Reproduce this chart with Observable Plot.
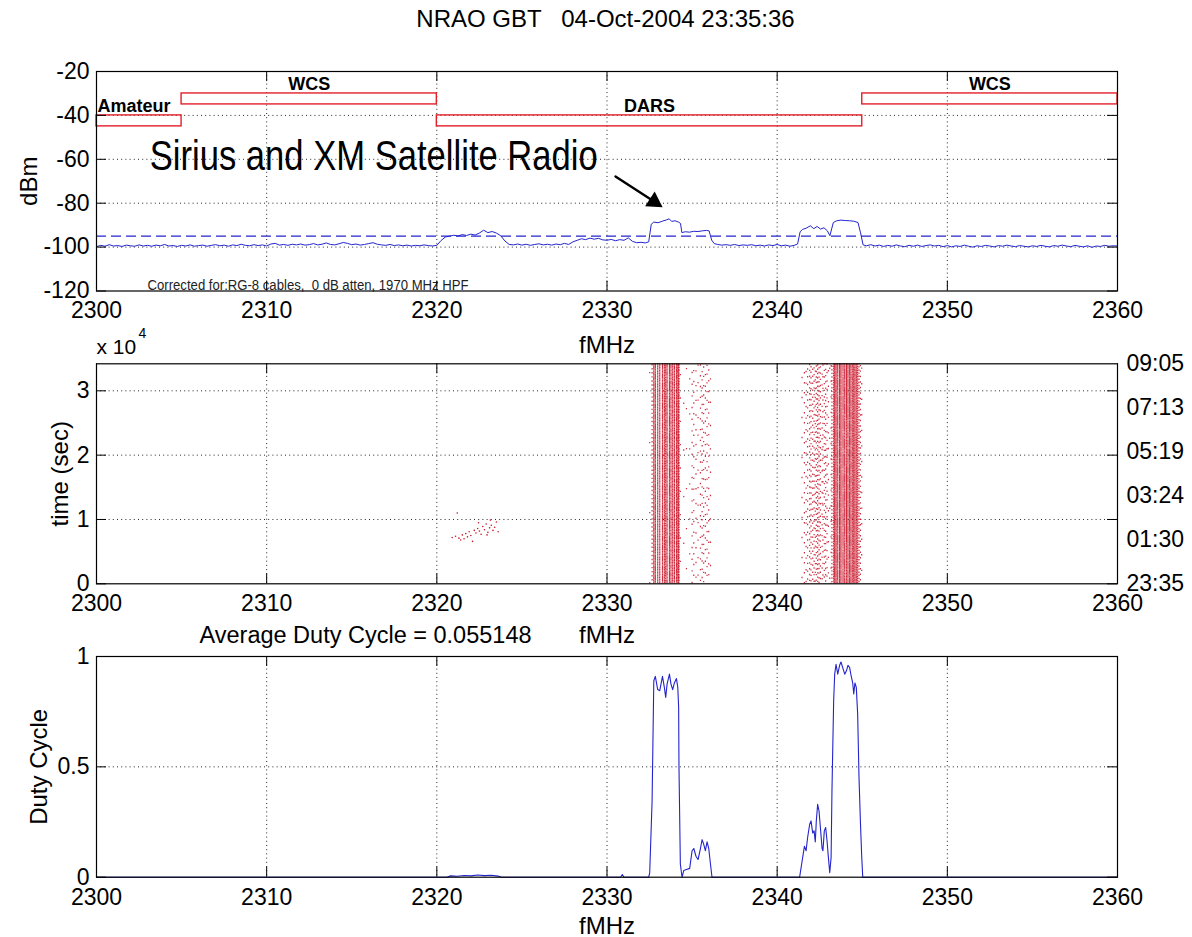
<!DOCTYPE html>
<html><head><meta charset="utf-8">
<script src="https://cdn.jsdelivr.net/npm/d3@7"></script>
<script src="https://cdn.jsdelivr.net/npm/@observablehq/plot@0.6"></script>
<style>
html,body{margin:0;padding:0;background:#fff;}
#chart{position:relative;width:1192px;height:937px;background:#fff;overflow:hidden;}
#chart svg{position:absolute;left:0;overflow:visible;background:transparent;}
</style></head><body><div id="chart"></div>
<script>
// ---------------- data ----------------
const titleText = "NRAO GBT   04-Oct-2004 23:35:36";
const freqTicks = [2300, 2310, 2320, 2330, 2340, 2350, 2360];
const dbmTicks = [-120, -100, -80, -60, -40, -20];
const timeTicks = [0, 10000, 20000, 30000];
const timeTickLabels = ["0", "1", "2", "3"];
const clockTicks = [0, 6840, 13680, 20520, 27360, 34200];
const clockLabels = ["23:35", "01:30", "03:24", "05:19", "07:13", "09:05"];
const dutyTicks = [0, 0.5, 1];
const dutyTickLabels = ["0", "0.5", "1"];
const timeSpan = 34200;
const averageDuty = 0.055148;

const bandNames = ["Amateur", "WCS", "DARS", "WCS"];
const bandLow = [2300, 2305, 2320, 2345];
const bandHigh = [2305, 2320, 2345, 2360];
const bandTop = [-40, -30, -40, -30];
const bandBottom = [-45, -35, -45, -35];
const thresholdDbm = -95;

const siriusNote = {text: "Sirius and XM Satellite Radio", f: 2303.13, v: -65.1};
const arrowNote = {f1: 2330.5, v1: -67.8, f2: 2333.27, v2: -81.8};
const correctedNote = {text: "Corrected for:RG-8 cables,  0 dB atten, 1970 MHz HPF", f: 2303.0, v: -120};

// spectrum [MHz, dBm]
const spectrum = [
[2300,-99.8],[2300.25,-99.2],[2300.5,-99.6],[2300.75,-98.9],[2301,-99.5],[2301.25,-99.3],[2301.5,-99.7],[2301.75,-99.1],
[2302,-99.4],[2302.25,-99.6],[2302.5,-99.0],[2302.75,-99.5],[2303,-99.2],[2303.25,-99.6],[2303.5,-99.1],[2303.75,-99.4],
[2304,-98.8],[2304.25,-99.5],[2304.5,-99.3],[2304.75,-99.7],[2305,-99.2],[2305.25,-99.5],[2305.5,-99.0],[2305.75,-99.6],
[2306,-99.3],[2306.25,-99.1],[2306.5,-99.6],[2306.75,-99.2],[2307,-98.9],[2307.25,-99.4],[2307.5,-99.1],[2307.75,-99.6],
[2308,-99.0],[2308.25,-99.3],[2308.5,-98.7],[2308.75,-99.2],[2309,-99.4],[2309.25,-98.9],[2309.5,-99.3],[2309.75,-99.0],
[2310,-99.5],[2310.25,-98.6],[2310.5,-98.3],[2310.75,-99.1],[2311,-98.8],[2311.25,-99.2],[2311.5,-98.7],[2311.75,-99.0],
[2312,-98.6],[2312.25,-99.1],[2312.5,-98.9],[2312.75,-98.4],[2313,-99.0],[2313.25,-98.7],[2313.5,-98.1],[2313.75,-98.8],
[2314,-99.0],[2314.25,-98.5],[2314.5,-97.9],[2314.75,-98.3],[2315,-98.9],[2315.25,-98.6],[2315.5,-99.1],[2315.75,-98.8],
[2316,-98.4],[2316.25,-98.0],[2316.5,-98.7],[2316.75,-99.0],[2317,-99.2],[2317.25,-98.8],[2317.5,-99.3],[2317.75,-99.0],
[2318,-99.4],[2318.25,-99.1],[2318.5,-99.5],[2318.75,-99.2],[2319,-99.4],[2319.25,-99.0],[2319.5,-99.3],[2319.75,-99.5],
[2320,-99.2],[2320.25,-97.0],[2320.5,-95.4],[2320.75,-95.0],[2321,-94.6],[2321.25,-94.9],[2321.5,-94.3],[2321.75,-94.7],
[2322,-94.1],[2322.25,-94.5],[2322.5,-93.6],[2322.75,-92.3],[2323,-93.4],[2323.25,-92.9],[2323.5,-93.6],[2323.75,-94.8],
[2324,-97.2],[2324.25,-98.8],[2324.5,-99.0],[2324.75,-98.6],[2325,-99.1],[2325.25,-98.7],[2325.5,-99.2],[2325.75,-98.8],
[2326,-98.5],[2326.25,-99.0],[2326.5,-98.7],[2326.75,-99.1],[2327,-98.6],[2327.25,-98.9],[2327.5,-98.3],[2327.75,-98.8],
[2328,-97.6],[2328.25,-96.9],[2328.5,-96.2],[2328.75,-96.6],[2329,-95.9],[2329.25,-96.4],[2329.5,-96.0],[2329.75,-96.7],
[2330,-96.9],[2330.25,-96.5],[2330.5,-97.1],[2330.75,-96.6],[2331,-96.9],[2331.25,-95.8],[2331.5,-97.4],[2331.75,-98.0],
[2332,-97.8],[2332.25,-98.1],[2332.45,-97.6],[2332.6,-89.6],[2332.75,-88.6],[2333,-88.9],[2333.25,-88.2],[2333.5,-87.6],
[2333.65,-87.1],[2333.8,-88.3],[2334,-88.0],[2334.2,-88.6],[2334.32,-89.2],[2334.4,-93.4],[2334.6,-93.0],[2334.85,-93.2],
[2335.1,-92.8],[2335.35,-92.9],[2335.6,-92.6],[2335.85,-92.4],[2336,-92.6],[2336.15,-96.8],[2336.3,-98.4],[2336.5,-98.8],
[2336.75,-99.1],[2337,-98.9],[2337.25,-99.2],[2337.5,-98.8],[2337.75,-99.3],[2338,-99.0],[2338.25,-99.2],[2338.5,-98.9],
[2338.75,-99.4],[2339,-99.1],[2339.25,-99.5],[2339.5,-99.0],[2339.75,-99.3],[2340,-98.8],[2340.25,-99.4],[2340.5,-99.1],
[2340.75,-99.6],[2341,-99.2],[2341.2,-98.6],[2341.35,-93.0],[2341.5,-91.9],[2341.7,-91.4],[2341.95,-90.3],[2342.15,-91.6],
[2342.35,-90.6],[2342.55,-91.8],[2342.75,-91.2],[2342.95,-92.6],[2343.1,-94.8],[2343.3,-88.8],[2343.5,-88.0],[2343.75,-87.7],
[2344,-87.9],[2344.25,-88.0],[2344.5,-88.2],[2344.75,-88.8],[2344.9,-93.5],[2345.05,-99.0],[2345.25,-99.4],[2345.5,-98.9],
[2345.75,-99.5],[2346,-99.1],[2346.25,-99.7],[2346.5,-99.2],[2346.75,-99.6],[2347,-99.0],[2347.25,-99.5],[2347.5,-99.8],
[2347.75,-99.2],[2348,-99.6],[2348.25,-99.1],[2348.5,-99.7],[2348.75,-99.3],[2349,-99.0],[2349.25,-99.5],[2349.5,-99.2],
[2349.75,-99.8],[2350,-99.3],[2350.25,-99.9],[2350.5,-99.4],[2350.75,-99.7],[2351,-99.1],[2351.25,-99.6],[2351.5,-100.0],
[2351.75,-99.4],[2352,-99.7],[2352.25,-99.2],[2352.5,-99.5],[2352.75,-99.9],[2353,-99.3],[2353.25,-99.6],[2353.5,-99.1],
[2353.75,-99.5],[2354,-99.8],[2354.25,-99.3],[2354.5,-99.6],[2354.75,-99.9],[2355,-99.4],[2355.25,-99.7],[2355.5,-99.2],
[2355.75,-99.6],[2356,-99.9],[2356.25,-99.3],[2356.5,-99.6],[2356.75,-99.1],[2357,-99.5],[2357.25,-99.8],[2357.5,-99.2],
[2357.75,-99.6],[2358,-99.9],[2358.25,-99.4],[2358.5,-100.1],[2358.75,-99.5],[2359,-99.7],[2359.25,-99.2],[2359.5,-99.6],
[2359.75,-99.4],[2360,-99.5]
];

// duty cycle [MHz, fraction]
const duty = [
[2300,0],[2320.6,0],[2320.8,0.006],[2321.2,0.004],[2321.6,0.008],[2322.0,0.006],[2322.4,0.01],[2322.8,0.007],
[2323.2,0.009],[2323.6,0.005],[2323.8,0],[2330.8,0],[2330.9,0.012],[2331.0,0],[2332.45,0],
[2332.51,0.02],[2332.65,0.345],[2332.75,0.89],[2332.84,0.91],[2332.98,0.85],[2333.10,0.845],[2333.26,0.91],[2333.37,0.86],
[2333.45,0.815],[2333.53,0.875],[2333.67,0.92],[2333.76,0.875],[2333.86,0.85],[2333.96,0.88],[2334.08,0.90],[2334.16,0.86],
[2334.21,0.77],[2334.23,0.5],[2334.31,0.06],[2334.41,0],[2334.51,0.03],[2334.67,0.035],[2334.86,0.04],[2335.00,0.12],
[2335.10,0.13],[2335.23,0.095],[2335.35,0.08],[2335.49,0.13],[2335.59,0.17],[2335.68,0.15],[2335.78,0.12],[2335.88,0.16],
[2335.98,0.13],[2336.08,0.06],[2336.17,0],[2341.32,0],[2341.46,0.07],[2341.60,0.14],[2341.70,0.12],[2341.79,0.18],
[2341.91,0.24],[2341.99,0.255],[2342.09,0.2],[2342.17,0.21],[2342.24,0.16],[2342.30,0.255],[2342.38,0.33],[2342.46,0.3],
[2342.54,0.225],[2342.64,0.13],[2342.69,0.12],[2342.77,0.21],[2342.85,0.225],[2342.93,0.165],[2343.01,0.09],[2343.09,0.02],
[2343.17,0.09],[2343.22,0.39],[2343.32,0.8],[2343.38,0.92],[2343.46,0.965],[2343.56,0.92],[2343.67,0.96],[2343.75,0.975],
[2343.87,0.945],[2343.97,0.92],[2344.07,0.935],[2344.16,0.96],[2344.26,0.95],[2344.34,0.915],[2344.44,0.88],[2344.50,0.83],
[2344.57,0.88],[2344.65,0.86],[2344.73,0.74],[2344.81,0.45],[2344.89,0.255],[2344.97,0.09],[2345.03,0],[2360,0]
];

// isolated detections near 2322 MHz [MHz, sec]
const lowDots = [
[2321.2,11000],[2320.9,7200],[2321.1,7400],[2321.3,7100],[2321.5,7600],[2321.6,7000],[2321.8,7300],[2321.9,8100],
[2322.0,7500],[2322.1,6600],[2322.2,8300],[2322.3,7900],[2322.4,8600],[2322.5,8200],[2322.6,7700],[2322.7,8900],
[2322.8,8400],[2322.9,9300],[2323.0,8000],[2323.1,8700],[2323.2,9100],[2323.3,8300],[2323.4,8800],[2323.5,9600],
[2323.6,8100],[2322.45,9500],[2321.7,7800],[2322.95,7600],[2323.15,9900],[2321.4,6800]
];

// ---------------- layout ----------------
const W = 1192, ML = 96, MR = 75, TICK = 10;
const PW = W - ML - MR;
const P1 = {top: 0, h: 330, mt: 71, mb: 39.5};
const P2 = {top: 330, h: 290, mt: 33.3, mb: 36.7};
const P3 = {top: 620, h: 317, mt: 36, mb: 60.3};
const FONT = "'Liberation Sans', Arial, Helvetica, sans-serif";
const baseStyle = {fontFamily: FONT, fontSize: "23px", background: "transparent", overflow: "visible", color: "#000"};
const gridStyle = {stroke: "#000", strokeOpacity: 0.85, strokeDasharray: "1,3.2", strokeWidth: 1};
const blue = "#2424cc";
const red = "#c8162a";
const fmt = (ticks, labels) => { const m = new Map(ticks.map((t, i) => [t, labels[i]])); return d => m.get(d); };

function frameTicks(xt, yt, ph) {
  return [
    Plot.ruleX(xt, {insetTop: ph - TICK, stroke: "#000"}),
    Plot.ruleX(xt, {insetBottom: ph - TICK, stroke: "#000"}),
    Plot.ruleY(yt, {insetRight: PW - TICK, stroke: "#000"}),
    Plot.ruleY(yt, {insetLeft: PW - TICK, stroke: "#000"})
  ];
}
function xAxis() {
  return Plot.axisX(freqTicks, {tickSize: 0, tickPadding: 11, tickFormat: d => String(d), label: null, fontSize: 23});
}

// ---------------- panel 1 ----------------
const bands = bandNames.map((name, i) => ({name, lo: bandLow[i], hi: bandHigh[i], top: bandTop[i], bottom: bandBottom[i]}));
const spec = spectrum.map(([f, v]) => ({f, v}));
const ph1 = P1.h - P1.mt - P1.mb;

const plot1 = Plot.plot({
  width: W, height: P1.h, marginLeft: ML, marginRight: MR, marginTop: P1.mt, marginBottom: P1.mb,
  style: baseStyle,
  x: {domain: [2300, 2360], label: null},
  y: {domain: [-120, -20], label: null},
  marks: [
    Plot.ruleX(freqTicks.slice(1, -1), gridStyle),
    Plot.ruleY(dbmTicks.slice(1, -1), gridStyle),
    Plot.rect(bands, {x1: "lo", x2: "hi", y1: "bottom", y2: "top", fill: "none", stroke: "#e3202a", strokeWidth: 1.4}),
    Plot.text(bands.slice(0, 1), {x: "lo", y: "top", text: "name", textAnchor: "start", lineAnchor: "bottom", dx: 1, dy: -3.5, fontSize: 18, fontWeight: "bold"}),
    Plot.text(bands.slice(1), {x: d => (d.lo + d.hi) / 2, y: "top", text: "name", lineAnchor: "bottom", dy: -3.5, fontSize: 18, fontWeight: "bold"}),
    Plot.ruleY([thresholdDbm], {stroke: blue, strokeDasharray: "10,5", strokeWidth: 1.1}),
    Plot.line(spec, {x: "f", y: "v", stroke: blue, strokeWidth: 1}),
    Plot.text([siriusNote], {x: "f", y: "v", text: "text", textAnchor: "start", lineAnchor: "bottom", fontSize: 42,
      fontFamily: "'Liberation Sans Narrow', 'Arial Narrow', 'Liberation Sans', sans-serif"}),
    Plot.arrow([arrowNote], {x1: "f1", y1: "v1", x2: "f2", y2: "v2", bend: 0, headLength: 0, insetEnd: 7, stroke: "#000", strokeWidth: 2.4}),
    Plot.dot([arrowNote], {x: "f2", y: "v2", symbol: "triangle", r: 6.5, fill: "#000", stroke: "none", rotate: 123, dx: -8.5, dy: -5.5}),
    Plot.text([correctedNote], {x: "f", y: "v", text: "text", textAnchor: "start", lineAnchor: "bottom", dy: -1, fontSize: 14, fill: "#222",
      fontFamily: "'Liberation Sans Narrow', 'Liberation Sans', sans-serif"}),
    ...frameTicks(freqTicks, dbmTicks, ph1),
    xAxis(),
    Plot.axisY(dbmTicks, {tickSize: 0, tickPadding: 7, tickFormat: d => String(d), label: null, fontSize: 23}),
    Plot.frame({stroke: "#000", strokeWidth: 1.2}),
    Plot.text([titleText], {frameAnchor: "top", dx: -1.5, dy: -45, lineAnchor: "bottom", fontSize: 24}),
    Plot.text(["dBm"], {frameAnchor: "left", dx: -60, rotate: -90, textAnchor: "middle", lineAnchor: "bottom", fontSize: 24}),
    Plot.text(["fMHz"], {frameAnchor: "bottom", dy: 61.5, lineAnchor: "bottom", fontSize: 24})
  ]
});

// ---------------- panel 2 ----------------
const ph2 = P2.h - P2.mt - P2.mb;
const rasterCols = duty.filter(([f, v]) => v >= 0.015 && f > 2330).map(([f, v], i) => ({f, v, i}));
const rasterMarks = rasterCols.map(c => {
  const on = 1.4, off = on * (1 - c.v) / c.v;
  return Plot.ruleX([c], {x: "f", y1: 0, y2: timeSpan, stroke: red, strokeWidth: 1.2, strokeOpacity: 0.9,
    strokeDasharray: `${on} ${off.toFixed(3)}`, strokeDashoffset: ((c.i * 5.3) % (on + off)).toFixed(2)});
});

const plot2 = Plot.plot({
  width: W, height: P2.h, marginLeft: ML, marginRight: MR, marginTop: P2.mt, marginBottom: P2.mb,
  style: baseStyle,
  x: {domain: [2300, 2360], label: null},
  y: {domain: [0, timeSpan], label: null},
  marks: [
    Plot.ruleX(freqTicks.slice(1, -1), gridStyle),
    Plot.ruleY(timeTicks.slice(1), gridStyle),
    ...rasterMarks,
    Plot.dot(lowDots, {x: d => d[0], y: d => d[1], r: 0.8, fill: red, stroke: "none"}),
    ...frameTicks(freqTicks, timeTicks, ph2),
    xAxis(),
    Plot.axisY(timeTicks, {tickSize: 0, tickPadding: 7, tickFormat: fmt(timeTicks, timeTickLabels), label: null, fontSize: 23}),
    Plot.axisY(clockTicks, {anchor: "right", tickSize: 0, tickPadding: 9, tickFormat: fmt(clockTicks, clockLabels), label: null, fontSize: 23}),
    Plot.frame({stroke: "#000", strokeWidth: 1.2}),
    Plot.text(["time (sec)"], {frameAnchor: "left", dx: -29, rotate: -90, textAnchor: "middle", lineAnchor: "bottom", fontSize: 24}),
    Plot.text(["x 10"], {frameAnchor: "top-left", dy: -10.3, textAnchor: "start", lineAnchor: "bottom", fontSize: 21}),
    Plot.text(["4"], {frameAnchor: "top-left", dx: 42, dy: -26.3, textAnchor: "start", lineAnchor: "bottom", fontSize: 14}),
    Plot.text([`Average Duty Cycle = ${averageDuty}`], {frameAnchor: "bottom-left", dx: 269, dy: 58.7, textAnchor: "middle", lineAnchor: "bottom", fontSize: 23.5}),
    Plot.text(["fMHz"], {frameAnchor: "bottom", dy: 58.7, lineAnchor: "bottom", fontSize: 24})
  ]
});

// ---------------- panel 3 ----------------
const ph3 = P3.h - P3.mt - P3.mb;
const dutyRows = duty.map(([f, v]) => ({f, v}));
const plot3 = Plot.plot({
  width: W, height: P3.h, marginLeft: ML, marginRight: MR, marginTop: P3.mt, marginBottom: P3.mb,
  style: baseStyle,
  x: {domain: [2300, 2360], label: null},
  y: {domain: [0, 1], label: null},
  marks: [
    Plot.ruleX(freqTicks.slice(1, -1), gridStyle),
    Plot.ruleY(dutyTicks.slice(1, -1), gridStyle),
    Plot.line(dutyRows, {x: "f", y: "v", stroke: blue, strokeWidth: 1.1}),
    ...frameTicks(freqTicks, dutyTicks, ph3),
    xAxis(),
    Plot.axisY(dutyTicks, {tickSize: 0, tickPadding: 7, tickFormat: fmt(dutyTicks, dutyTickLabels), label: null, fontSize: 23}),
    Plot.frame({stroke: "#000", strokeWidth: 1.2}),
    Plot.text(["Duty Cycle"], {frameAnchor: "left", dx: -50, rotate: -90, textAnchor: "middle", lineAnchor: "bottom", fontSize: 24}),
    Plot.text(["fMHz"], {frameAnchor: "bottom", dy: 56.3, lineAnchor: "bottom", fontSize: 24})
  ]
});

// ---------------- mount ----------------
const chart = document.getElementById("chart");
[[plot1, P1], [plot2, P2], [plot3, P3]].forEach(([svg, P]) => {
  svg.style.position = "absolute";
  svg.style.top = P.top + "px";
  svg.style.left = "0px";
  svg.style.overflow = "visible";
  svg.style.background = "transparent";
  chart.appendChild(svg);
});
function fitText(svg, content, len) {
  d3.select(svg).selectAll("text").filter(function () { return this.textContent === content; })
    .attr("textLength", len).attr("lengthAdjust", "spacingAndGlyphs").style("white-space", "pre");
}
fitText(plot1, siriusNote.text, 448);
fitText(plot1, correctedNote.text, 321);
</script></body></html>
